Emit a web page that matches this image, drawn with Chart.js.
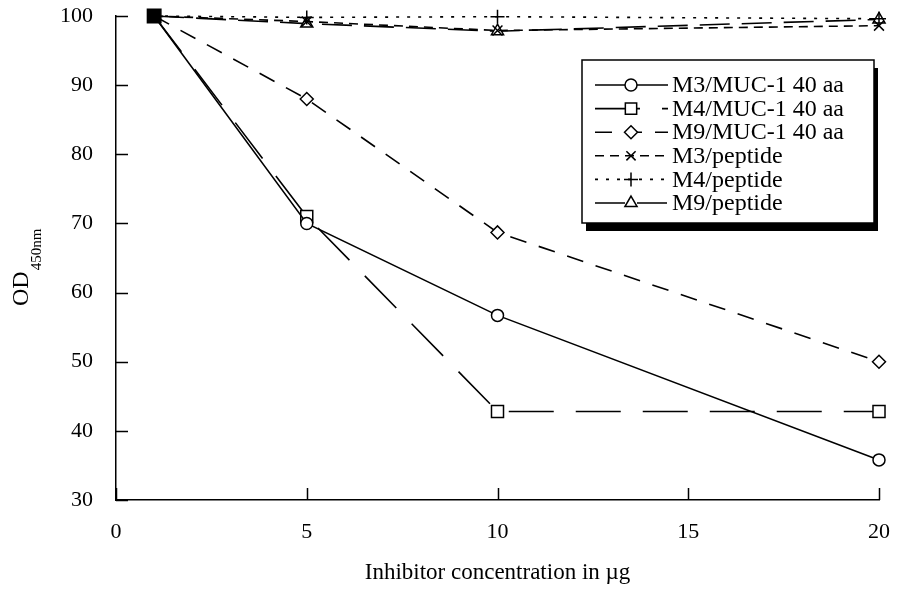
<!DOCTYPE html>
<html>
<head>
<meta charset="utf-8">
<script src="https://cdn.jsdelivr.net/npm/chart.js@4.4.0/dist/chart.umd.min.js"></script>
<style>
html,body{margin:0;padding:0;background:#fff;}
#wrap{width:899px;height:589px;}
</style>
</head>
<body>
<div id="wrap"><canvas id="c" width="899" height="589"></canvas></div>
<script>
// ---- data ----
const concentrations = [1, 5, 10, 20];
const m3Muc = [100, 70, 56.7, 35.8];
const m4Muc = [100, 71, 42.8, 42.8];
const m9Muc = [100, 88, 68.7, 50];
const m3Pep = [100, 99.2, 97.9, 98.6];
const m4Pep = [100, 99.8, 99.9, 99.6];
const m9Pep = [100, 98.9, 97.8, 99.5];
const seriesLabels = ['M3/MUC-1 40 aa', 'M4/MUC-1 40 aa', 'M9/MUC-1 40 aa', 'M3/peptide', 'M4/peptide', 'M9/peptide'];
const xTicks = [0, 5, 10, 15, 20];
const yTicks = [30, 40, 50, 60, 70, 80, 90, 100];
const xTitle = 'Inhibitor concentration in \u00B5g';
const yTitleMain = 'OD';
const yTitleSub = '450nm';

const FONT = '"Liberation Serif", "Times New Roman", serif';

function pts(vals){ return concentrations.map((x,i)=>({x:x, y:vals[i]})); }

const styles = [
  {dash: [], point: 'circle', r: 6, lr: 6},
  {dash: [45, 22], point: 'rect', r: 8.5, lr: 8},
  {dash: [17, 13], point: 'rectRot', r: 6.5, lr: 6.5},
  {dash: [9, 6], point: 'crossRot', r: 7, lr: 6.5},
  {dash: [3, 8], point: 'cross', r: 7, lr: 7},
  {dash: [30, 12], point: 'triangle', r: 7, lr: 7}
];
const allVals = [m3Muc, m4Muc, m9Muc, m3Pep, m4Pep, m9Pep];

const datasets = allVals.map((v, k) => ({
  label: seriesLabels[k],
  data: pts(v),
  clip: false,
  borderColor: '#000',
  borderWidth: 1.6,
  borderDash: styles[k].dash,
  pointStyle: styles[k].point,
  pointBorderColor: '#000',
  pointBorderWidth: 1.5,
  pointBackgroundColor: (ctx) => (k === 1 && ctx.dataIndex === 0) ? '#000' : '#fff',
  pointRadius: (ctx) => {
    if (ctx.dataIndex === 0) return k === 1 ? 9.5 : 0;
    return styles[k].r;
  },
  tension: 0,
  fill: false
}));

const inwardTicks = {
  id: 'inwardTicks',
  afterDatasetsDraw(chart) {
    const ctx = chart.ctx;
    const xs = chart.scales.x, ys = chart.scales.y;
    const a = chart.chartArea;
    ctx.save();
    ctx.strokeStyle = '#000';
    ctx.lineWidth = 1.5;
    ctx.beginPath();
    yTicks.forEach(v => {
      const y = Math.round(ys.getPixelForValue(v)) + 0.5;
      ctx.moveTo(a.left, y); ctx.lineTo(a.left + 12, y);
    });
    xTicks.forEach(v => {
      const x = Math.round(xs.getPixelForValue(v)) + 0.5;
      ctx.moveTo(x, a.bottom); ctx.lineTo(x, a.bottom - 12);
    });
    ctx.stroke();
    ctx.restore();
  }
};

const titlesPlugin = {
  id: 'titles',
  afterDraw(chart) {
    const ctx = chart.ctx;
    const a = chart.chartArea;
    ctx.save();
    ctx.fillStyle = '#000';
    ctx.font = '23px ' + FONT;
    ctx.textAlign = 'center';
    ctx.textBaseline = 'middle';
    ctx.fillText(xTitle, (a.left + a.right) / 2, 573);
    // y title rotated with subscript
    ctx.translate(28, 306);
    ctx.rotate(-Math.PI / 2);
    ctx.textAlign = 'left';
    ctx.textBaseline = 'alphabetic';
    ctx.font = '24px ' + FONT;
    ctx.fillText(yTitleMain, 0, 0);
    const w = ctx.measureText(yTitleMain).width;
    ctx.font = '15px ' + FONT;
    ctx.fillText(yTitleSub, w + 1, 13);
    ctx.restore();
  }
};

const legendPlugin = {
  id: 'customLegend',
  afterDraw(chart) {
    const ctx = chart.ctx;
    const bx = 582, by = 60, bw = 292, bh = 163;
    ctx.save();
    ctx.fillStyle = '#000';
    ctx.fillRect(bx + 4, by + 8, bw, bh);
    ctx.fillStyle = '#fff';
    ctx.fillRect(bx, by, bw, bh);
    ctx.strokeStyle = '#000';
    ctx.lineWidth = 1.5;
    ctx.strokeRect(bx, by, bw, bh);
    const rowY0 = 85, rowStep = 23.6;
    chart.data.datasets.forEach((ds, k) => {
      const y = rowY0 + k * rowStep;
      ctx.save();
      ctx.strokeStyle = '#000';
      ctx.lineWidth = 1.6;
      ctx.setLineDash(ds.borderDash);
      ctx.beginPath();
      ctx.moveTo(595, y); ctx.lineTo(668, y);
      ctx.stroke();
      ctx.restore();
      ctx.save();
      ctx.strokeStyle = '#000';
      ctx.fillStyle = '#fff';
      ctx.lineWidth = 1.5;
      ctx.setLineDash([]);
      Chart.helpers.drawPoint(ctx, {pointStyle: ds.pointStyle, rotation: 0, radius: styles[k].lr, borderWidth: 1.5}, 631, y);
      ctx.restore();
      ctx.fillStyle = '#000';
      ctx.font = '24px ' + FONT;
      ctx.textAlign = 'left';
      ctx.textBaseline = 'middle';
      ctx.fillText(ds.label, 672, y + 1);
    });
    ctx.restore();
  }
};

new Chart(document.getElementById('c'), {
  type: 'line',
  data: { datasets },
  options: {
    responsive: false,
    animation: false,
    devicePixelRatio: 1,
    layout: { padding: { left: 0, right: 20, top: 16, bottom: 0 } },
    plugins: { legend: { display: false }, tooltip: { enabled: false } },
    scales: {
      x: {
        type: 'linear', min: 0, max: 20,
        afterBuildTicks: (s) => { s.ticks = xTicks.map(v => ({value: v})); },
        afterFit: (s) => { s.height = 89; s.paddingLeft = 0; s.paddingRight = 0; },
        grid: { display: false, drawTicks: false },
        border: { display: true, color: '#000', width: 1.5 },
        ticks: { color: '#000', font: { family: FONT, size: 22 }, padding: 19, maxRotation: 0 }
      },
      y: {
        min: 30, max: 100,
        afterBuildTicks: (s) => { s.ticks = yTicks.map(v => ({value: v})); },
        afterFit: (s) => { s.width = 116; s.paddingTop = 0; s.paddingBottom = 0; },
        grid: { display: false, drawTicks: false },
        border: { display: true, color: '#000', width: 1.5 },
        ticks: { color: '#000', font: { family: FONT, size: 22 }, padding: 23 }
      }
    }
  },
  plugins: [inwardTicks, titlesPlugin, legendPlugin]
});
</script>
</body>
</html>
